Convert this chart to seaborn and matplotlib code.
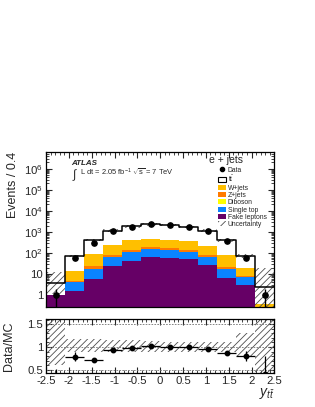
import numpy as np
import pandas as pd
import matplotlib
matplotlib.use("Agg")
import matplotlib.pyplot as plt
from matplotlib.patches import Patch
from matplotlib.lines import Line2D
from matplotlib.ticker import MultipleLocator, LogLocator, FuncFormatter, NullFormatter
import seaborn as sns

# binning of y_tt (12 bins of ~0.4 between -2.5 and 2.5)
edges = np.linspace(-2.5, 2.5, 13)

# expected events per bin
fake_leptons = [1.0, 1.6, 5.8, 25, 39, 65, 58, 52, 27, 6.2, 3.1, 0.0]
single_top = [0.0, 2.5, 10.9, 40, 71, 90, 77, 58, 35, 10.5, 3.7, 0.0]
diboson = [0.0, 0.05, 0.3, 1.0, 1.5, 2.0, 2.0, 1.5, 1.0, 0.3, 0.05, 0.0]
z_jets = [0.0, 0.7, 7.3, 15, 25, 30, 35, 25, 16, 5.3, 1.3, 0.05]
w_jets = [0.0, 8.7, 68, 160, 255, 295, 260, 225, 132, 56, 10.6, 0.33]
ttbar = [2.8, 58.5, 318, 910, 1410, 1770, 1670, 1340, 940, 322, 51.3, 2.1]
data = [1, 57, 299, 1070, 1746, 2295, 2121, 1700, 1104, 348, 56, 1]

# systematic band (relative, main panel) and band limits in the ratio panel
unc_up = [2.3, 0.14, 0.14, 0.14, 0.14, 0.14, 0.14, 0.14, 0.14, 0.14, 0.2, 7.0]
unc_down = [0.7, 0.14, 0.14, 0.14, 0.14, 0.14, 0.14, 0.14, 0.14, 0.14, 0.15, 1.0]
ratio_band_hi = [2.0, 1.18, 1.17, 1.16, 1.15, 1.13, 1.12, 1.12, 1.12, 1.12, 1.31, 2.0]
ratio_band_lo = [0.60, 0.89, 0.89, 0.89, 0.89, 0.89, 0.89, 0.89, 0.89, 0.89, 0.81, 0.0]

processes = ["tt", "W+jets", "Z+jets", "Diboson", "Single top", "Fake leptons"]
yields = [ttbar, w_jets, z_jets, diboson, single_top, fake_leptons]
colores = {"tt": "white", "W+jets": "#ffbf00", "Z+jets": "#ff7a00",
           "Diboson": "#ffff00", "Single top": "#0a84ff", "Fake leptons": "#660066"}

centros = 0.5 * (edges[:-1] + edges[1:])
largura = edges[1] - edges[0]
total = np.sum([np.asarray(v, float) for v in yields], axis=0)
data = np.asarray(data, float)
bins = edges.tolist()

df = pd.concat([pd.DataFrame({"y": centros, "process": p, "events": v})
                for p, v in zip(processes, yields)], ignore_index=True)
df_total = pd.DataFrame({"y": centros, "events": total})

sns.set_style("ticks")
plt.rcParams["font.family"] = ["Liberation Sans", "DejaVu Sans"]
plt.rcParams["mathtext.fontset"] = "custom"
plt.rcParams["mathtext.rm"] = "Liberation Sans"
plt.rcParams["mathtext.it"] = "Liberation Sans:italic"
plt.rcParams["axes.unicode_minus"] = False
plt.rcParams["hatch.linewidth"] = 0.6

fig = plt.figure(figsize=(3.15, 4.07), dpi=100)
ax = fig.add_axes([0.146, 0.246, 0.725, 0.381])
ax_r = fig.add_axes([0.146, 0.083, 0.725, 0.133])

# stacked backgrounds + signal
sns.histplot(data=df, x="y", weights="events", hue="process", hue_order=processes,
             multiple="stack", bins=bins, element="step", fill=True, alpha=1,
             linewidth=0, palette=colores, legend=False, ax=ax)
# total prediction outline
sns.histplot(data=df_total, x="y", weights="events", bins=bins, element="step",
             fill=False, color="black", linewidth=1.1, ax=ax)

# uncertainty band
hi = total * (1 + np.asarray(unc_up))
lo = total * (1 - np.asarray(unc_down))
ax.bar(centros, hi - lo, bottom=lo, width=largura, fill=False, hatch="/////",
       edgecolor="0.3", linewidth=0)

ax.errorbar(centros, data, yerr=np.sqrt(data), fmt="o", color="black", ms=3.8,
            elinewidth=1.0, capsize=0)

ax.set_yscale("log")
ax.set_xlim(-2.5, 2.5)
ax.set_ylim(0.27, 6.4e6)
ax.set_xlabel("")
ax.set_ylabel("Events / 0.4", fontsize=9, ha="right")
ax.yaxis.set_label_coords(-0.12, 1.0)

def fmt_log(v, _):
    if v == 1:
        return "1"
    if v == 10:
        return "10"
    return r"$10^{%d}$" % int(round(np.log10(v)))

ax.yaxis.set_major_locator(LogLocator(base=10, numticks=10))
ax.yaxis.set_minor_locator(LogLocator(base=10, subs=np.arange(2, 10), numticks=20))
ax.yaxis.set_major_formatter(FuncFormatter(fmt_log))
ax.yaxis.set_minor_formatter(NullFormatter())
ax.xaxis.set_major_locator(MultipleLocator(0.5))
ax.xaxis.set_minor_locator(MultipleLocator(0.1))
ax.tick_params(axis="x", labelbottom=False)

for a in (ax, ax_r):
    a.tick_params(which="both", direction="in", top=True, right=True, labelsize=8.2, pad=2)
    a.tick_params(which="major", length=4.5, width=0.8)
    a.tick_params(which="minor", length=2.2, width=0.6)
    for s in a.spines.values():
        s.set_linewidth(0.9)
        s.set_color("black")

# ATLAS label and luminosity
ax.text(0.112, 0.926, "ATLAS", transform=ax.transAxes, fontsize=5.8,
        fontweight="bold", fontstyle="italic", va="center")
ax.text(0.112, 0.852, r"$\int$", transform=ax.transAxes, fontsize=8.5, va="center")
ax.text(0.148, 0.868, r"L dt = 2.05 fb$^{-1}$ $\sqrt{\rm s}$ = 7 TeV",
        transform=ax.transAxes, fontsize=5.4, va="center")
ax.text(0.79, 0.948, "e + jets", transform=ax.transAxes, fontsize=7.5, ha="center", va="center")

handles = [Line2D([], [], marker="o", color="black", ls="none", ms=3.0, label="Data"),
           Patch(facecolor="white", edgecolor="black", lw=0.8, label=r"t$\bar{\rm t}$")]
for p in processes[1:]:
    handles.append(Patch(facecolor=colores[p], edgecolor="none", label=p))
handles.append(Patch(facecolor="white", edgecolor="0.3", hatch="/////", lw=0, label="Uncertainty"))
leg = ax.legend(handles=handles, loc="upper left", bbox_to_anchor=(0.755, 0.905),
                frameon=False, fontsize=4.9, handlelength=1.15, handleheight=0.8,
                handletextpad=0.25, labelspacing=0.05, borderpad=0, borderaxespad=0)

# ratio panel
ratio = data / total
ratio_err = np.sqrt(data) / total
ax_r.bar(centros, np.asarray(ratio_band_hi) - np.asarray(ratio_band_lo),
         bottom=ratio_band_lo, width=largura, fill=False, hatch="/////",
         edgecolor="0.3", linewidth=0)
for nivel in (0.5, 1.0, 1.5):
    ax_r.axhline(nivel, color="0.45", lw=0.6, ls=(0, (2, 1.5)))
ax_r.errorbar(centros, ratio, yerr=ratio_err, xerr=largura / 2, fmt="o",
              color="black", ms=3.2, elinewidth=0.9, capsize=0)
ax_r.set_xlim(-2.5, 2.5)
ax_r.set_ylim(0.43, 1.61)
ax_r.xaxis.set_major_locator(MultipleLocator(0.5))
ax_r.xaxis.set_minor_locator(MultipleLocator(0.1))
ax_r.yaxis.set_major_locator(MultipleLocator(0.5))
ax_r.yaxis.set_minor_locator(MultipleLocator(0.1))
ax_r.xaxis.set_major_formatter(FuncFormatter(lambda v, _: "%g" % v))
ax_r.yaxis.set_major_formatter(FuncFormatter(lambda v, _: "%g" % v))
ax_r.set_ylabel("Data/MC", fontsize=9)
ax_r.yaxis.set_label_coords(-0.135, 0.5)
ax_r.set_xlabel(r"$y_{t\bar{t}}$", fontsize=10, loc="right", labelpad=0)

fig.savefig("out.png", dpi=100)
plt.close(fig)
